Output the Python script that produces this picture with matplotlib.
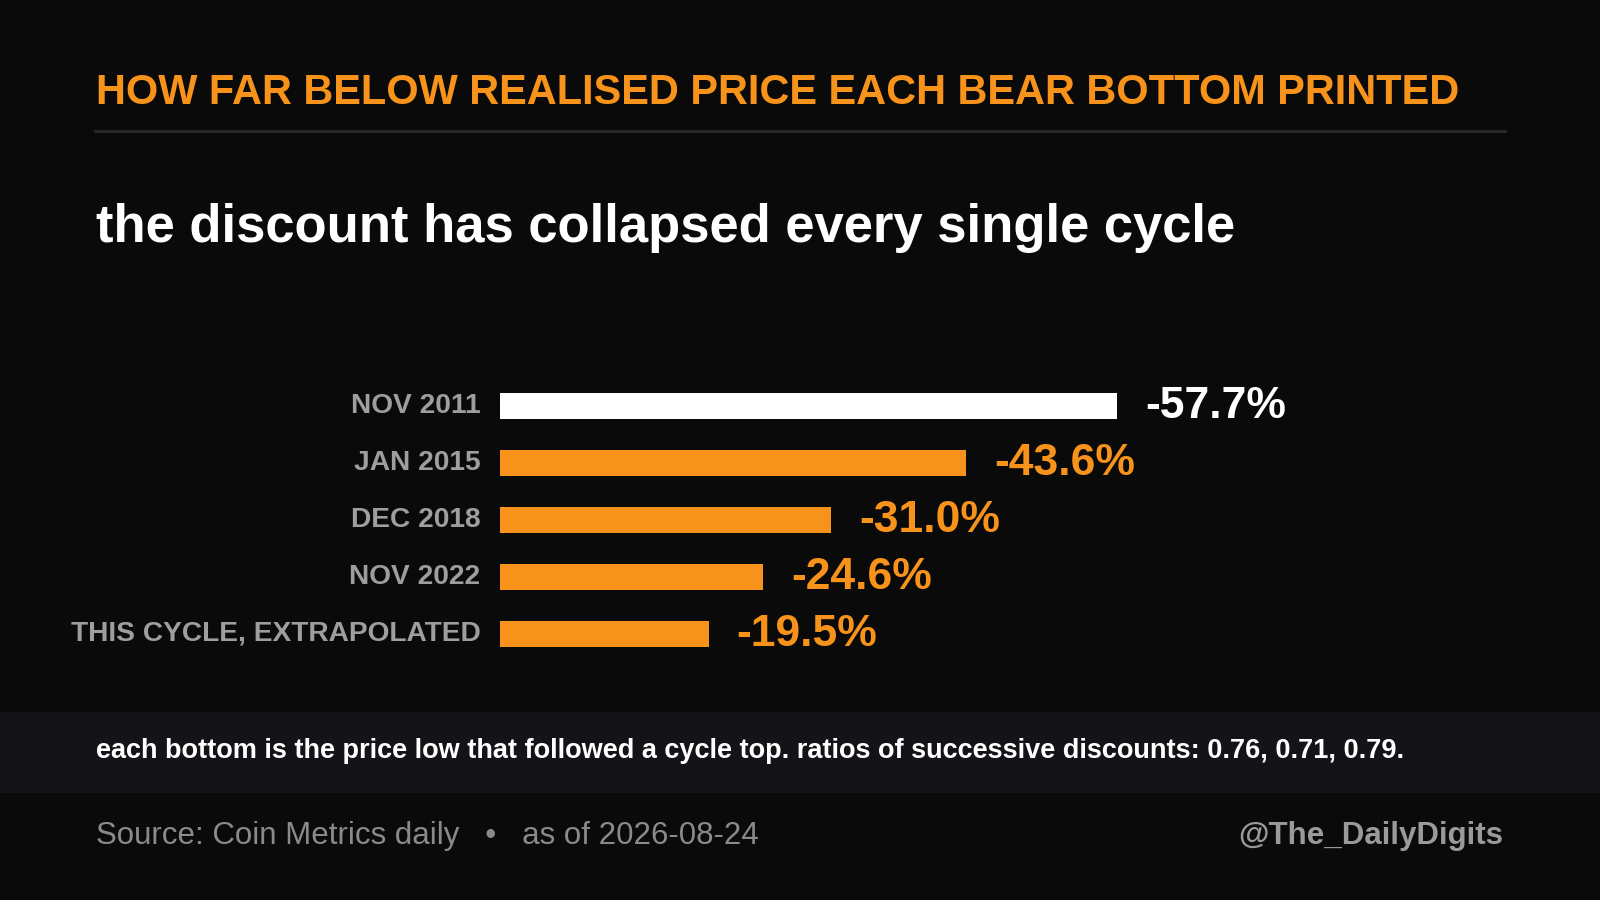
import matplotlib
matplotlib.use("Agg")
import matplotlib.pyplot as plt
import matplotlib.transforms as mtransforms
from matplotlib.patches import Rectangle

plt.rcParams['font.family'] = ['Liberation Sans', 'DejaVu Sans']

# data
cycles = ['NOV 2011', 'JAN 2015', 'DEC 2018', 'NOV 2022', 'THIS CYCLE, EXTRAPOLATED']
discount = [57.7, 43.6, 31.0, 24.6, 19.5]
bar_colors = ['#ffffff', '#f7931a', '#f7931a', '#f7931a', '#f7931a']

BG = '#0a0a0a'
ORANGE = '#f7931a'

W, H = 1600, 900
fig = plt.figure(figsize=(16, 9), dpi=100, facecolor=BG)

def fx(px):
    return px / W

def fy(px):
    # pixel from top -> figure fraction
    return 1 - px / H

# header
fig.text(fx(96), fy(93), 'HOW FAR BELOW REALISED PRICE EACH BEAR BOTTOM PRINTED',
         color=ORANGE, fontsize=29.9, fontweight='bold', va='center', ha='left')
fig.add_artist(plt.Line2D([fx(95), fx(1505)], [fy(131), fy(131)], color='#26262a', lw=2.2))
fig.text(fx(96), fy(228), 'the discount has collapsed every single cycle',
         color='white', fontsize=37.9, fontweight='bold', va='center', ha='left')

# bar chart
px_per_unit = 617 / 57.7
ax_left, ax_right = 500, 1500
ax_top, ax_bot = 377.5, 662.5
ax = fig.add_axes([fx(ax_left), fy(ax_bot), fx(ax_right - ax_left), (ax_bot - ax_top) / H])
ax.set_facecolor(BG)
ypos = list(range(len(cycles)))
ax.barh(ypos, discount, height=0.46, color=bar_colors)
ax.set_xlim(0, (ax_right - ax_left) / px_per_unit)
ax.set_ylim(len(cycles) - 0.5, -0.5)
for s in ax.spines.values():
    s.set_visible(False)
ax.set_xticks([])
ax.set_yticks(ypos)
ax.set_yticklabels(cycles, color='#9e9e9e', fontsize=20.25, fontweight='bold')
ax.tick_params(axis='y', length=0, pad=14)
shift = mtransforms.ScaledTranslation(0, 3.2 / 100, fig.dpi_scale_trans)
for lab in ax.get_yticklabels():
    lab.set_transform(lab.get_transform() + shift)

for y, v, c in zip(ypos, discount, bar_colors):
    ax.annotate(f'-{v:.1f}%', xy=(v, y), xytext=(20, 0), textcoords='offset points',
                color=c, fontsize=32, fontweight='bold', va='center', ha='left')

# note band
fig.add_artist(Rectangle((0, fy(793)), 1, (793 - 712) / H, transform=fig.transFigure,
                         facecolor='#141418', edgecolor='none', zorder=0))
fig.text(fx(96), fy(751),
         'each bottom is the price low that followed a cycle top. ratios of successive discounts: 0.76, 0.71, 0.79.',
         color='white', fontsize=19.55, fontweight='bold', va='center', ha='left')

# footer
fig.text(fx(96), fy(836), 'Source: Coin Metrics daily   \u2022   as of 2026-08-24',
         color='#8a8a8a', fontsize=22.5, va='center', ha='left')
fig.text(fx(1503), fy(836), '@The_DailyDigits',
         color='#9a9a9a', fontsize=22.5, fontweight='bold', va='center', ha='right')

fig.savefig('out.png', dpi=100, facecolor=BG)
